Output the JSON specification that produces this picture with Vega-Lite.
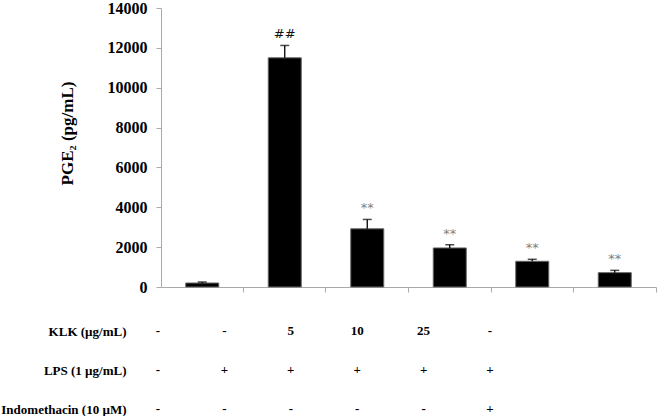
{
  "$schema": "https://vega.github.io/schema/vega-lite/v6.json",
  "padding": {"left": 0, "top": 0, "right": 1, "bottom": 0},
  "background": "white",
  "config": {"view": {"stroke": null}, "font": "Liberation Serif"},
  "spacing": 30,
  "vconcat": [
    {
      "width": 495,
      "height": 279,
      "data": {
        "values": [
          {"group": "g1", "mean": 200, "hi": 250, "sig": ""},
          {"group": "g2", "mean": 11500, "hi": 12120, "sig": "##"},
          {"group": "g3", "mean": 2920, "hi": 3390, "sig": "**"},
          {"group": "g4", "mean": 1960, "hi": 2120, "sig": "**"},
          {"group": "g5", "mean": 1290, "hi": 1390, "sig": "**"},
          {"group": "g6", "mean": 720, "hi": 835, "sig": "**"}
        ]
      },
      "resolve": {"axis": {"y": "independent"}},
      "encoding": {
        "x": {
          "field": "group",
          "type": "nominal",
          "sort": null,
          "scale": {"paddingInner": 0.6, "paddingOuter": 0.3},
          "axis": {
            "labels": false,
            "title": null,
            "domainColor": "#aaaaaa",
            "tickColor": "#aaaaaa",
            "tickSize": 5,
            "bandPosition": 1.75,
            "grid": false
          }
        }
      },
      "layer": [
        {
          "mark": {"type": "bar", "fill": "#000000", "stroke": "#666666", "strokeWidth": 1},
          "encoding": {
            "y": {
              "field": "mean",
              "type": "quantitative",
              "scale": {"domain": [0, 14000], "nice": false},
              "axis": {
                "title": "PGE₂ (pg/mL)",
                "values": [0, 2000, 4000, 6000, 8000, 10000, 12000, 14000],
                "format": "d",
                "labelOverlap": false,
                "labelFlush": false,
                "grid": false,
                "domainColor": "#aaaaaa",
                "tickColor": "#aaaaaa",
                "tickSize": 5,
                "labelFont": "Liberation Serif",
                "labelFontWeight": "bold",
                "labelFontSize": 16,
                "labelColor": "#000000",
                "labelPadding": 9,
                "titleFont": "Liberation Serif",
                "titleFontSize": 17,
                "titleFontWeight": "bold",
                "titleColor": "#000000",
                "titlePadding": 31,
                "titleY": 125
              }
            }
          }
        },
        {
          "mark": {"type": "rule", "color": "#000000", "strokeWidth": 1.3},
          "encoding": {
            "y": {"field": "mean", "type": "quantitative", "axis": null},
            "y2": {"field": "hi"}
          }
        },
        {
          "mark": {"type": "tick", "color": "#000000", "thickness": 1.5, "size": 9},
          "encoding": {
            "y": {"field": "hi", "type": "quantitative", "axis": null}
          }
        },
        {
          "mark": {"type": "text", "baseline": "bottom", "dy": -4, "font": "DejaVu Sans", "fontSize": 13},
          "encoding": {
            "y": {"field": "hi", "type": "quantitative", "axis": null},
            "text": {"field": "sig"},
            "color": {"condition": {"test": "datum.sig === '##'", "value": "#111111"}, "value": "#808080"}
          }
        }
      ]
    },
    {
      "width": 495,
      "height": 78,
      "data": {
        "values": [
          {"row": "KLK (µg/mL)", "col": 1, "val": "-"},
          {"row": "KLK (µg/mL)", "col": 2, "val": "-"},
          {"row": "KLK (µg/mL)", "col": 3, "val": "5"},
          {"row": "KLK (µg/mL)", "col": 4, "val": "10"},
          {"row": "KLK (µg/mL)", "col": 5, "val": "25"},
          {"row": "KLK (µg/mL)", "col": 6, "val": "-"},
          {"row": "LPS (1 µg/mL)", "col": 1, "val": "-"},
          {"row": "LPS (1 µg/mL)", "col": 2, "val": "+"},
          {"row": "LPS (1 µg/mL)", "col": 3, "val": "+"},
          {"row": "LPS (1 µg/mL)", "col": 4, "val": "+"},
          {"row": "LPS (1 µg/mL)", "col": 5, "val": "+"},
          {"row": "LPS (1 µg/mL)", "col": 6, "val": "+"},
          {"row": "Indomethacin (10 µM)", "col": 1, "val": "-"},
          {"row": "Indomethacin (10 µM)", "col": 2, "val": "-"},
          {"row": "Indomethacin (10 µM)", "col": 3, "val": "-"},
          {"row": "Indomethacin (10 µM)", "col": 4, "val": "-"},
          {"row": "Indomethacin (10 µM)", "col": 5, "val": "-"},
          {"row": "Indomethacin (10 µM)", "col": 6, "val": "+"}
        ]
      },
      "mark": {"type": "text", "font": "Liberation Serif", "fontWeight": "bold", "fontSize": 13, "color": "#000000"},
      "encoding": {
        "x": {"field": "col", "type": "quantitative", "scale": {"domain": [1.045, 8.5]}, "axis": null},
        "y": {
          "field": "row",
          "type": "nominal",
          "sort": ["KLK (µg/mL)", "LPS (1 µg/mL)", "Indomethacin (10 µM)"],
          "scale": {"type": "point", "padding": 0},
          "axis": {
            "title": null,
            "domain": false,
            "ticks": false,
            "labelFont": "Liberation Serif",
            "labelFontWeight": "bold",
            "labelFontSize": 13,
            "labelColor": "#000000",
            "labelPadding": 35
          }
        },
        "text": {"field": "val"}
      }
    }
  ]
}
